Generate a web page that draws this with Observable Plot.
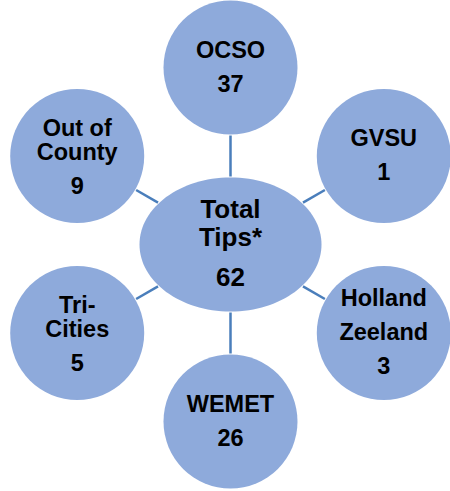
<!DOCTYPE html>
<html>
<head>
<meta charset="utf-8">
<script src="https://cdn.jsdelivr.net/npm/d3@7"></script>
<script src="https://cdn.jsdelivr.net/npm/@observablehq/plot@0.6"></script>
<style>
  html, body { margin: 0; padding: 0; background: #ffffff; }
  #chart svg { display: block; }
</style>
</head>
<body>
<div id="chart"></div>
<script>
// ---- data ----
const nodes = ["OCSO", "GVSU", "Holland Zeeland", "WEMET", "Tri-Cities", "Out of County"];
const nodeLines = [["OCSO"], ["GVSU"], ["Holland", "Zeeland"], ["WEMET"], ["Tri-", "Cities"], ["Out of", "County"]];
const tips = [37, 1, 3, 26, 5, 9];
const totalLines = ["Total", "Tips*"];
const totalTips = 62;

// ---- layout (computed) ----
const W = 450, H = 491;
const unit = 177;                 // pixels per layout unit (hub-to-node distance)
const cx = 230, cy = 244;         // hub position in pixels
const R = 67;                     // node circle radius (px)
const RX = 91, RY = 67;           // hub ellipse radii (px)
const FS = 23.5, FS_HUB = 26;
const paragraphNodes = new Set(["Holland Zeeland"]);

const nodeData = nodes.map((name, i) => {
  const a = (90 - 60 * i) * Math.PI / 180;
  return {name, i, ux: Math.cos(a), uy: Math.sin(a), x: Math.cos(a), y: Math.sin(a), value: tips[i], lines: nodeLines[i]};
});

const links = nodeData.map(d => {
  const inner = 1 / Math.sqrt((d.ux * d.ux) / (RX * RX) + (d.uy * d.uy) / (RY * RY)) + 1;
  const outer = unit - R - 1;
  return {
    x1: d.ux * inner / unit, y1: d.uy * inner / unit,
    x2: d.ux * outer / unit, y2: d.uy * outer / unit
  };
});

// returns label block (anchored at last label baseline) and number row
function block(x, y, lines, value, lineGap, numGap, mean, group) {
  const offs = lines.map((_, k) => k * lineGap);
  const last = offs[offs.length - 1];
  const numOff = last + numGap;
  const m = d3.mean([...offs, numOff]);
  return {
    label: {x, y: y - (last - m + mean) / unit, text: lines.join("\n"), group},
    num: {x, y: y - (numOff - m + mean) / unit, text: String(value)}
  };
}

const labelRows = [], numRows = [];
nodeData.forEach(d => {
  const para = paragraphNodes.has(d.name);
  const b = block(d.x, d.y, d.lines, d.value, para ? 34 : 24, 34, 7, para ? "para" : "wrap");
  labelRows.push(b.label);
  numRows.push(b.num);
});
const HUB_GAP = 28;
const hub = block(0, 0, totalLines, totalTips, HUB_GAP, 40, 5, "hub");

const ellipseSymbol = {
  draw(ctx) {
    const k = 0.5522847;
    ctx.moveTo(RX, 0);
    ctx.bezierCurveTo(RX, RY * k, RX * k, RY, 0, RY);
    ctx.bezierCurveTo(-RX * k, RY, -RX, RY * k, -RX, 0);
    ctx.bezierCurveTo(-RX, -RY * k, -RX * k, -RY, 0, -RY);
    ctx.bezierCurveTo(RX * k, -RY, RX, -RY * k, RX, 0);
    ctx.closePath();
  }
};

const fill = "#8eaadb";
const font = "'Liberation Sans', Arial, Helvetica, sans-serif";
const textOpts = {x: "x", y: "y", text: "text", fontWeight: "bold", fontFamily: font, fill: "#000", textAnchor: "middle", lineAnchor: "bottom"};

const chart = Plot.plot({
  width: W,
  height: H,
  margin: 0,
  x: {domain: [-cx / unit, (W - cx) / unit], axis: null},
  y: {domain: [-(H - cy) / unit, cy / unit], axis: null},
  marks: [
    Plot.link(links, {x1: "x1", y1: "y1", x2: "x2", y2: "y2", stroke: "#4a7ebb", strokeWidth: 2.5}),
    Plot.dot(nodeData, {x: "x", y: "y", r: R, fill, stroke: "none"}),
    Plot.dot([{x: 0, y: 0}], {x: "x", y: "y", r: 10, symbol: ellipseSymbol, fill, stroke: "none"}),
    Plot.text(labelRows.filter(d => d.group === "wrap"), {...textOpts, fontSize: FS, lineHeight: 24 / FS}),
    Plot.text(labelRows.filter(d => d.group === "para"), {...textOpts, fontSize: FS, lineHeight: 34 / FS}),
    Plot.text(numRows, {...textOpts, fontSize: FS}),
    Plot.text([hub.label], {...textOpts, fontSize: FS_HUB, lineHeight: HUB_GAP / FS_HUB}),
    Plot.text([hub.num], {...textOpts, fontSize: FS_HUB})
  ]
});
document.getElementById("chart").appendChild(chart);
</script>
</body>
</html>
